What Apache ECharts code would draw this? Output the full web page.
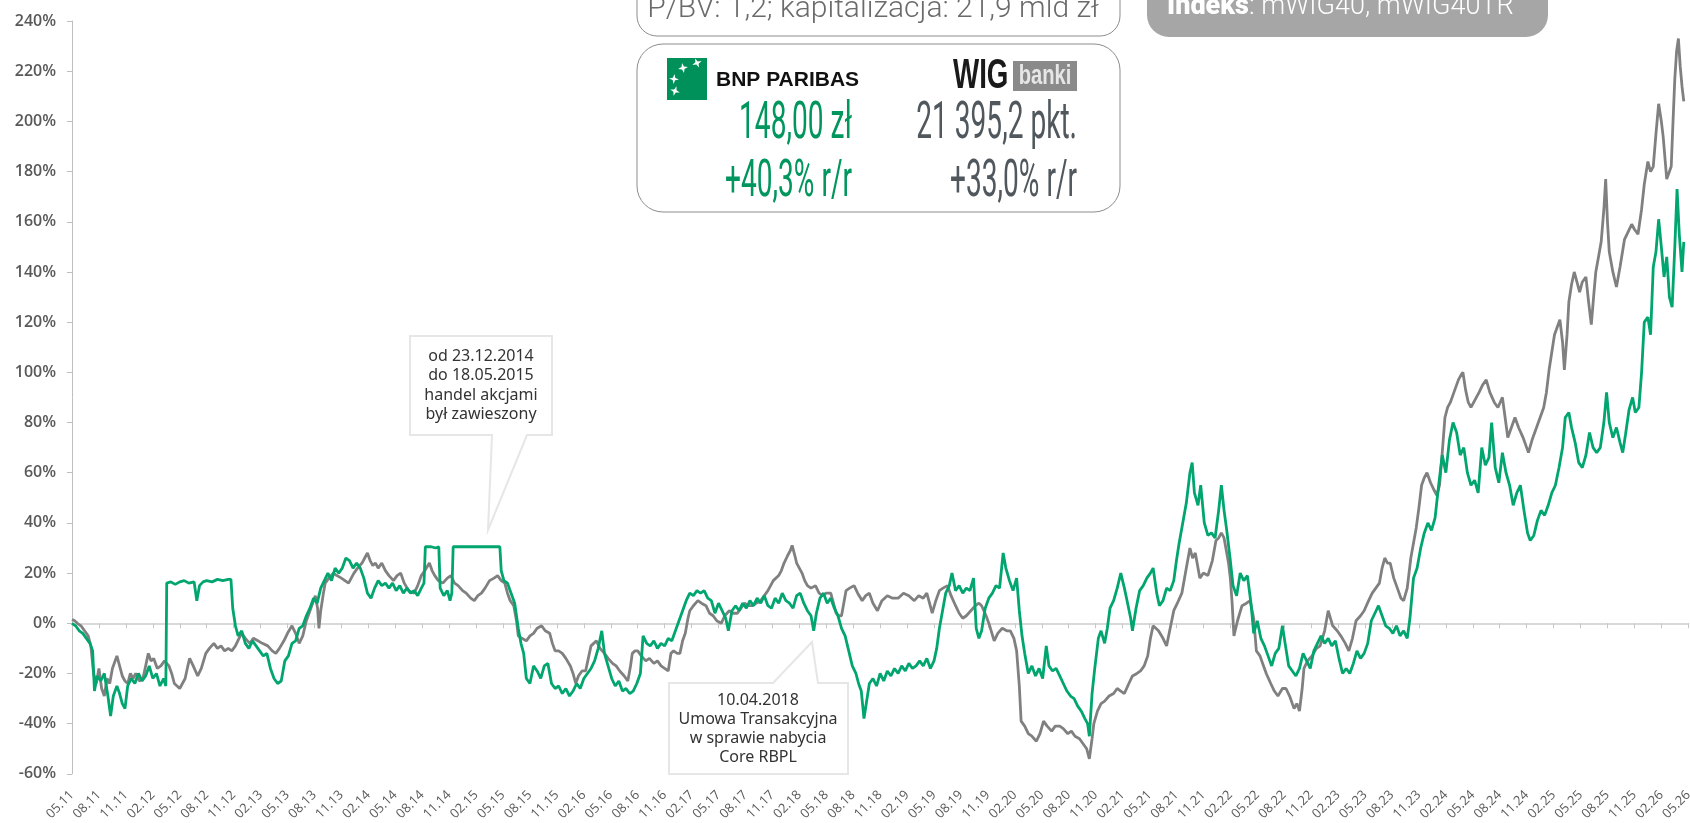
<!DOCTYPE html>
<html><head><meta charset="utf-8">
<script src="https://cdn.jsdelivr.net/npm/echarts@6/dist/echarts.min.js"></script>
<style>html,body{margin:0;padding:0;background:#fff;overflow:hidden;width:1690px;height:823px}#c{width:1695px;height:823px}</style>
</head><body><div id="c"></div>
<script>
// x = months since 05.2011, y = % change
const bnpData = [
[0,0],[0.4,-1],[0.8,-3],[1.2,-4],[1.6,-6],[2.0,-8],[2.3,-11],[2.5,-27],[2.8,-21],[3.2,-23],[3.6,-20],[4.0,-29],[4.3,-37],[4.6,-29],[5.0,-25],[5.3,-28],[5.6,-32],[5.9,-34],[6.2,-25],[6.6,-22],[7.0,-24],[7.4,-20],[7.8,-23],[8.2,-21],[8.6,-17],[9.0,-22],[9.4,-20],[9.8,-25],[10.2,-22],[10.45,-25],
[10.55,16],[11.0,16.5],[11.5,15.5],[12.0,16.5],[12.5,17],[13.0,16],[13.6,16.5],[13.9,9],[14.2,15],[14.6,16.5],[15.0,17],[15.6,16.5],[16.2,17.5],[16.8,17],[17.4,17.5],[17.7,17.5],
[17.9,6],[18.2,-1],[18.5,-5],[18.9,-3],[19.3,-8],[19.7,-10],[20.1,-7],[20.5,-9],[20.9,-11],[21.3,-13],[21.7,-12],[22.1,-18],[22.5,-22],[22.9,-24],[23.3,-23],[23.7,-15],[24.1,-13],[24.5,-8],[24.9,-7],[25.3,-2],[25.7,-1],[26.1,3],[26.5,6],[26.9,10],[27.3,8],[27.7,14],[28.1,17],[28.5,20],[28.9,17],[29.3,22],[29.7,20],[30.1,22],[30.5,26],[30.9,25],[31.3,22],[31.7,24],[32.1,22],[32.5,18],[32.9,12],[33.3,10],[33.7,14],[34.1,17],[34.5,15],[34.9,16],[35.3,14],[35.7,16],[36.1,13],[36.5,15],[36.9,12],[37.3,14],[37.7,12],[38.1,13],[38.5,11],[38.9,14],[39.2,16],
[39.35,30.5],[40.0,30.5],[40.5,30],[40.85,30.5],[41.0,14],[41.4,11],[41.8,13],[42.1,9],[42.3,12],[42.45,30.5],[45.0,30.5],[47.65,30.5],
[47.8,21],[48.1,17],[48.5,16],[48.9,12],[49.3,8],[49.7,-2],[50.0,-8],[50.3,-12],[50.6,-22],[51.0,-24],[51.4,-17],[51.8,-19],[52.2,-22],[52.6,-17],[53.0,-16],[53.4,-24],[53.8,-26],[54.2,-25],[54.6,-28],[55.0,-26],[55.4,-29],[55.8,-27],[56.2,-24],[56.6,-26],[57.0,-22],[57.4,-20],[57.8,-18],[58.2,-15],[58.6,-10],[59.0,-3],[59.3,-12],[59.7,-17],[60.1,-22],[60.5,-25],[60.9,-23],[61.3,-27],[61.7,-26],[62.1,-28],[62.5,-27],[62.9,-24],[63.3,-20],[63.6,-5],[64.0,-8],[64.4,-9],[64.8,-7],[65.2,-10],[65.6,-8],[66.0,-9],[66.4,-6],[66.8,-7],[67.2,-3],[67.6,1],[68.0,5],[68.4,9],[68.8,12],[69.2,11],[69.6,13],[70.0,12],[70.4,13],[70.8,10],[71.2,9],[71.6,4],[72.0,8],[72.4,5],[72.8,2],[73.1,-3],[73.5,5],[73.9,7],[74.3,5],[74.7,8],[75.1,6],[75.5,9],[75.9,7],[76.3,10],[76.7,8],[77.1,11],[77.5,7],[77.9,6],[78.3,10],[78.7,8],[79.1,12],[79.5,9],[79.9,8],[80.3,6],[80.7,11],[81.1,12],[81.5,8],[81.9,5],[82.3,3],[82.6,-3],[82.9,4],[83.3,10],[83.7,12],[84.1,8],[84.5,10],[84.9,6],[85.3,3],[85.7,-2],[86.1,-5],[86.5,-11],[86.9,-17],[87.3,-20],[87.6,-24],[87.9,-27],[88.2,-38],[88.5,-31],[88.8,-24],[89.2,-22],[89.6,-25],[90.0,-20],[90.4,-23],[90.8,-19],[91.2,-21],[91.6,-18],[92.0,-20],[92.4,-17],[92.8,-19],[93.2,-16],[93.6,-18],[94.0,-17],[94.4,-15],[94.8,-17],[95.2,-14],[95.6,-18],[96.0,-15],[96.3,-10],[96.6,-2],[97.0,6],[97.3,12],[97.7,15],[98.0,20],[98.4,13],[98.8,15],[99.2,12],[99.6,14],[100.0,13],[100.4,18],[100.7,-2],[101.0,-6],[101.3,-3],[101.7,6],[102.1,10],[102.5,12],[102.9,15],[103.3,14],[103.7,28],[104.0,22],[104.4,17],[104.8,13],[105.2,18],[105.5,5],[105.8,-5],[106.1,-12],[106.5,-20],[106.9,-17],[107.3,-21],[107.7,-18],[108.1,-22],[108.5,-9],[108.8,-17],[109.2,-19],[109.6,-18],[110.0,-21],[110.4,-24],[110.8,-27],[111.2,-29],[111.6,-30],[112.0,-33],[112.4,-35],[112.8,-38],[113.1,-40],[113.3,-45],[113.6,-28],[113.9,-18],[114.3,-6],[114.6,-3],[115.0,-8],[115.3,-2],[115.6,6],[116.0,9],[116.4,14],[116.8,20],[117.2,14],[117.5,9],[117.9,2],[118.1,-3],[118.5,6],[118.9,13],[119.3,15],[119.7,18],[120.1,20],[120.4,22],[120.8,12],[121.1,7],[121.5,9],[121.9,14],[122.3,13],[122.7,17],[123.0,25],[123.3,32],[123.7,40],[124.1,48],[124.5,60],[124.75,64],[125.0,52],[125.4,47],[125.7,55],[126.1,40],[126.5,35],[126.9,36],[127.3,34],[127.7,45],[128.0,55],[128.3,45],[128.6,37],[129.0,25],[129.3,15],[129.7,11],[130.1,20],[130.5,17],[130.9,19],[131.3,8],[131.6,-4],[132.0,1],[132.4,-6],[132.8,-9],[133.2,-13],[133.6,-17],[134.0,-12],[134.4,-10],[134.8,-1],[135.1,-8],[135.5,-17],[135.9,-19],[136.3,-21],[136.7,-18],[137.1,-12],[137.5,-15],[137.9,-18],[138.3,-11],[138.7,-8],[139.1,-5],[139.5,-8],[139.9,-6],[140.3,-9],[140.7,-7],[141.1,-14],[141.5,-20],[141.9,-18],[142.3,-20],[142.7,-16],[143.1,-11],[143.5,-14],[143.9,-12],[144.3,-8],[144.7,1],[145.1,4],[145.5,7],[145.9,3],[146.3,-1],[146.7,-2],[147.1,-4],[147.5,-1],[147.9,-5],[148.3,-3],[148.7,-6],[149.0,2],[149.4,18],[149.8,22],[150.2,30],[150.6,36],[151.0,40],[151.4,37],[151.8,42],[152.2,55],[152.6,67],[153.0,60],[153.4,73],[153.8,80],[154.2,76],[154.6,67],[155.0,70],[155.4,60],[155.8,55],[156.2,57],[156.6,52],[157.0,70],[157.4,63],[157.8,66],[158.1,80],[158.5,62],[158.9,56],[159.3,68],[159.7,60],[160.1,55],[160.5,47],[160.9,52],[161.3,55],[161.7,45],[162.1,36],[162.4,33],[162.8,35],[163.2,41],[163.6,45],[164.0,43],[164.4,47],[164.8,52],[165.2,55],[165.6,62],[166.0,70],[166.3,82],[166.7,84],[167.0,78],[167.4,72],[167.8,64],[168.2,62],[168.6,67],[169.0,76],[169.4,70],[169.8,68],[170.2,70],[170.6,80],[170.9,92],[171.2,80],[171.6,74],[172.0,78],[172.4,72],[172.7,68],[173.0,75],[173.4,85],[173.8,90],[174.1,84],[174.5,86],[174.8,100],[175.1,120],[175.5,122],[175.8,115],[176.1,142],[176.4,148],[176.7,161],[177.0,150],[177.3,138],[177.6,146],[177.9,130],[178.2,126],[178.5,150],[178.75,173],[179.0,155],[179.3,140],[179.5,152]
];
const wigData = [
[0,1.5],[0.3,1],[0.6,0],[1.0,-1],[1.4,-3],[1.8,-5],[2.1,-9],[2.4,-20],[2.7,-24],[3.0,-18],[3.3,-26],[3.6,-29],[3.9,-22],[4.2,-24],[4.5,-18],[4.8,-15],[5.0,-13],[5.3,-17],[5.6,-21],[5.9,-23],[6.2,-24],[6.5,-20],[6.8,-22],[7.1,-20],[7.5,-23],[7.9,-22],[8.2,-17],[8.5,-12],[8.8,-15],[9.1,-14],[9.5,-18],[9.9,-17],[10.3,-15],[10.8,-17],[11.1,-20],[11.4,-24],[11.7,-25],[12.0,-26],[12.3,-24],[12.6,-22],[12.9,-17],[13.1,-14],[13.5,-17],[14.0,-21],[14.4,-18],[14.9,-12],[15.3,-10],[15.8,-8],[16.2,-10],[16.6,-9],[17.0,-11],[17.4,-10],[17.8,-11],[18.2,-9],[18.6,-6],[18.9,-4],[19.3,-6],[19.8,-8],[20.2,-6],[20.7,-7],[21.2,-8],[21.8,-9],[22.3,-11],[22.7,-12],[23.1,-10],[23.6,-7],[24.0,-4],[24.5,-1],[24.9,-4],[25.3,-8],[25.7,-5],[26.1,1],[26.5,5],[26.8,8],[27.1,11],[27.35,6],[27.5,-2],[27.7,5],[28.0,12],[28.2,16],[28.6,18],[29.1,20],[29.5,19],[30.0,18],[30.4,17],[30.8,16],[31.1,18],[31.4,20],[31.8,22],[32.3,24],[32.6,26],[32.9,28],[33.2,25],[33.5,23],[33.8,24],[34.1,22],[34.5,24],[34.9,21],[35.3,19],[35.8,17],[36.2,19],[36.6,20],[37.0,16],[37.5,13],[38.1,12],[38.5,15],[38.9,19],[39.3,21],[39.8,24],[40.1,21],[40.4,19],[40.8,17],[41.3,16],[41.8,18],[42.2,19],[42.6,16],[43.0,15],[43.5,13],[43.9,12],[44.4,10],[44.8,9],[45.2,11],[45.6,12],[46.0,14],[46.5,17],[47.0,18],[47.4,19],[47.8,17],[48.2,16],[48.5,12],[48.8,9],[49.2,7],[49.5,1],[49.7,-5],[50.1,-6],[50.6,-7],[51.0,-5],[51.4,-4],[51.8,-2],[52.3,-1],[52.7,-3],[53.2,-4],[53.5,-8],[53.8,-11],[54.2,-11],[54.6,-12],[55.0,-14],[55.5,-17],[55.8,-20],[56.1,-24],[56.4,-21],[56.8,-19],[57.2,-19],[57.5,-14],[57.8,-9],[58.1,-8],[58.4,-7],[58.8,-10],[59.3,-12],[59.7,-14],[60.2,-16],[60.6,-17],[61.0,-19],[61.5,-21],[61.9,-23],[62.2,-17],[62.4,-12],[62.7,-11],[63.0,-11],[63.4,-13],[63.9,-15],[64.3,-14],[64.8,-16],[65.2,-15],[65.6,-17],[66.0,-18],[66.4,-19],[66.7,-12],[67.0,-11],[67.4,-12],[67.7,-12],[68.0,-7],[68.3,-4],[68.6,2],[68.8,5],[69.2,7],[69.7,9],[70.1,8],[70.6,7],[71.0,4],[71.4,3],[71.8,1],[72.3,0],[72.7,3],[73.2,5],[73.6,4],[74.1,4],[74.5,6],[74.9,8],[75.3,7],[75.8,7],[76.2,8],[76.7,9],[77.1,11],[77.5,13],[78.1,17],[78.7,19],[79.0,21],[79.3,24],[79.7,27],[80.0,29],[80.2,31],[80.5,27],[80.7,24],[81.0,22],[81.3,20],[81.6,17],[81.9,15],[82.3,14],[82.8,15],[83.2,12],[83.6,11],[84.0,12],[84.5,12],[84.8,8],[85.1,4],[85.4,3],[85.7,3],[86.0,9],[86.2,13],[86.6,14],[87.1,15],[87.5,12],[88.0,9],[88.4,11],[88.8,12],[89.2,8],[89.7,5],[90.2,9],[90.8,11],[91.4,10],[92.0,10],[92.6,12],[93.2,11],[93.8,9],[94.3,11],[94.8,10],[95.2,12],[95.5,8],[95.8,4],[96.2,9],[96.6,13],[97.0,14],[97.5,15],[97.9,11],[98.4,7],[98.8,4],[99.2,2],[99.6,3],[100.1,5],[100.6,7],[101.0,8],[101.3,7],[101.8,3],[102.2,-1],[102.7,-7],[103.1,-4],[103.6,-2],[104.1,-3],[104.5,-3],[104.9,-6],[105.2,-11],[105.5,-25],[105.7,-39],[106.1,-41],[106.5,-44],[106.9,-45],[107.4,-47],[107.8,-44],[108.2,-39],[108.6,-41],[109.1,-43],[109.5,-41],[110.0,-41],[110.4,-42],[110.9,-44],[111.3,-43],[111.7,-45],[112.2,-46],[112.6,-48],[113.0,-50],[113.3,-54],[113.6,-46],[113.8,-40],[114.2,-35],[114.6,-32],[115.0,-31],[115.5,-29],[116.0,-28],[116.4,-26],[116.8,-27],[117.2,-28],[117.7,-24],[118.1,-21],[118.6,-20],[119.0,-19],[119.4,-17],[119.8,-13],[120.1,-6],[120.4,-1],[120.7,-2],[121.0,-3],[121.5,-6],[121.9,-9],[122.3,-2],[122.7,5],[123.1,8],[123.6,12],[124.0,20],[124.5,30],[124.8,26],[125.1,28],[125.4,22],[125.6,18],[126.0,20],[126.5,19],[127.0,25],[127.4,33],[127.7,34],[128.0,36],[128.3,34],[128.5,30],[128.8,24],[129.0,18],[129.2,8],[129.4,-5],[129.8,1],[130.3,7],[130.8,8],[131.2,9],[131.6,2],[131.9,-11],[132.3,-13],[132.6,-16],[133.0,-20],[133.5,-24],[133.9,-27],[134.3,-29],[134.8,-26],[135.2,-26],[135.6,-29],[136.1,-34],[136.4,-32],[136.7,-35],[137.0,-26],[137.2,-18],[137.6,-15],[138.1,-13],[138.6,-10],[139.0,-9],[139.5,-3],[139.9,5],[140.4,-1],[140.9,-3],[141.3,-5],[141.8,-8],[142.2,-11],[142.6,-6],[143.0,1],[143.5,3],[143.9,5],[144.4,9],[144.8,12],[145.2,14],[145.6,16],[145.9,22],[146.2,26],[146.5,24],[146.8,24],[147.2,18],[147.7,13],[148.0,10],[148.3,9],[148.7,14],[149.1,26],[149.4,32],[149.7,38],[150.0,46],[150.3,55],[150.6,58],[150.9,60],[151.3,56],[151.7,53],[152.0,51],[152.3,55],[152.6,68],[152.9,82],[153.2,86],[153.5,88],[153.9,92],[154.2,95],[154.4,97],[154.7,99],[154.9,100],[155.2,93],[155.5,88],[155.8,86],[156.1,88],[156.4,90],[156.7,92],[157.1,95],[157.5,97],[157.9,92],[158.4,88],[158.8,86],[159.3,90],[159.6,82],[159.9,74],[160.3,78],[160.7,82],[161.1,78],[161.6,74],[162.0,70],[162.2,68],[162.6,73],[163.1,78],[163.5,82],[163.9,86],[164.2,92],[164.5,101],[164.8,108],[165.1,115],[165.4,118],[165.7,121],[166.0,112],[166.2,101],[166.5,115],[166.7,128],[167.0,135],[167.3,140],[167.6,136],[167.9,132],[168.2,136],[168.6,138],[168.9,128],[169.2,119],[169.5,132],[169.7,140],[170.0,146],[170.3,152],[170.6,165],[170.8,177],[171.0,160],[171.2,148],[171.6,140],[172.0,134],[172.4,142],[172.9,153],[173.3,156],[173.7,159],[174.0,157],[174.4,155],[174.8,165],[175.1,175],[175.5,184],[175.8,180],[176.1,182],[176.4,195],[176.7,207],[177.0,200],[177.2,194],[177.6,177],[177.9,180],[178.1,182],[178.3,200],[178.5,217],[178.7,228],[178.9,233],[179.1,222],[179.3,214],[179.5,208]
];
const yTicks = {min:-60, max:240, step:20};
const xTicks = {min:0, max:180, step:3};
const startMonth = 5, startYear = 11;
const infoTop = 'P/BV: 1,2; kapitalizacja: 21,9 mld zł';
const bnpPrice = '148,00 zł', bnpChange = '+40,3% r/r';
const wigPrice = '21 395,2 pkt.', wigChange = '+33,0% r/r';
const note1 = ['od 23.12.2014','do 18.05.2015','handel akcjami','był zawieszony'];
const note2 = ['10.04.2018','Umowa Transakcyjna','w sprawie nabycia','Core RBPL'];

function monthLabel(v){
  const idx = startMonth - 1 + Math.round(v);
  const mm = idx % 12 + 1, yy = startYear + Math.floor(idx / 12);
  return String(mm).padStart(2,'0') + '.' + String(yy).padStart(2,'0');
}
function star(cx, cy, r, rot){
  const pts = [];
  for (let i = 0; i < 8; i++){
    const a = rot + i * Math.PI / 4;
    const rr = i % 2 === 0 ? r : r * 0.35;
    pts.push([cx + rr * Math.cos(a), cy + rr * Math.sin(a)]);
  }
  return pts;
}
const GREEN = '#00a56f', GRAY = '#808080';
const chart = echarts.init(document.getElementById('c'), null, {renderer:'canvas'});
const graphic = [
  {type:'rect', shape:{x:637,y:-20,width:483,height:56,r:20}, style:{fill:'#fff',stroke:'#8c8c8c',lineWidth:1}},
  {type:'text', x:873, y:9, style:{text:infoTop, font:'300 30px Roboto', fill:'#6b6b6b', align:'center', verticalAlign:'middle'}},
  {type:'rect', shape:{x:637,y:44,width:483,height:168,r:26}, style:{fill:'#fff',stroke:'#8c8c8c',lineWidth:1}},
  {type:'rect', shape:{x:667,y:58,width:40,height:42}, style:{fill:'#00915a'}},
  {type:'polygon', shape:{points:star(675,91,5,0.3)}, style:{fill:'#fff'}},
  {type:'polygon', shape:{points:star(674,79,5,0.1)}, style:{fill:'#fff'}},
  {type:'polygon', shape:{points:star(683,68,5,-0.2)}, style:{fill:'#fff'}},
  {type:'polygon', shape:{points:star(697,63,5,-0.4)}, style:{fill:'#fff'}},
  {type:'text', x:716, y:80, style:{text:'BNP PARIBAS', font:'bold 21px "Liberation Sans"', fill:'#111', align:'left', verticalAlign:'middle'}},
  {type:'text', x:953, y:76, scaleX:0.66, style:{text:'WIG', font:'900 42px "Liberation Sans"', fill:'#1a1a1a', align:'left', verticalAlign:'middle'}},
  {type:'rect', shape:{x:1013,y:61,width:64,height:30}, style:{fill:'#8a8a8a'}},
  {type:'text', x:1045, y:76, scaleX:0.72, style:{text:'banki', font:'bold 28px "Liberation Sans"', fill:'#e6e6e6', align:'center', verticalAlign:'middle'}},
  {type:'text', x:852, y:125, scaleX:0.54, style:{text:bnpPrice, font:'52px Roboto', fill:'#00965e', align:'right', verticalAlign:'middle'}},
  {type:'text', x:1077, y:125, scaleX:0.54, style:{text:wigPrice, font:'52px Roboto', fill:'#50585e', align:'right', verticalAlign:'middle'}},
  {type:'text', x:852, y:183, scaleX:0.54, style:{text:bnpChange, font:'52px Roboto', fill:'#00965e', align:'right', verticalAlign:'middle'}},
  {type:'text', x:1077, y:183, scaleX:0.54, style:{text:wigChange, font:'52px Roboto', fill:'#50585e', align:'right', verticalAlign:'middle'}},
  {type:'rect', shape:{x:1147,y:-22,width:401,height:59,r:22}, style:{fill:'#a6a6a6'}},
  {type:'text', x:1167, y:7, style:{text:'{b|Indeks}: mWIG40, mWIG40TR', font:'300 27px Roboto', fill:'#fff', align:'left', verticalAlign:'middle', rich:{b:{font:'900 27px Roboto', fill:'#fff'}}}},
  {type:'polygon', shape:{points:[[410,336],[552,336],[552,435],[527,435],[488,530],[492,435],[410,435]]}, style:{fill:'#fff',stroke:'#e6e6e6',lineWidth:2}},
  {type:'polygon', shape:{points:[[669,683],[773,683],[812,642],[818,683],[848,683],[848,774],[669,774]]}, style:{fill:'#fff',stroke:'#e6e6e6',lineWidth:2}}
];
note1.forEach((t,i)=>graphic.push({type:'text', x:481, y:356+i*19.5, style:{text:t, font:'16px "Noto Sans"', fill:'#333', align:'center', verticalAlign:'middle'}}));
note2.forEach((t,i)=>graphic.push({type:'text', x:758, y:700+i*19, style:{text:t, font:'16px "Noto Sans"', fill:'#333', align:'center', verticalAlign:'middle'}}));

chart.setOption({
  animation:false,
  grid:{left:72, right:0, top:21, bottom:49, containLabel:false},
  xAxis:[
    {type:'value', min:xTicks.min, max:xTicks.max, interval:xTicks.step, position:'bottom',
     axisLine:{show:false, onZero:false}, axisTick:{show:false}, splitLine:{show:false},
     axisLabel:{rotate:45, margin:19, color:'#595959', fontSize:13, fontFamily:'"Open Sans"', formatter:monthLabel}},
    {type:'value', min:xTicks.min, max:xTicks.max, interval:xTicks.step, position:'bottom',
     axisLine:{show:true, onZero:true, lineStyle:{color:'#d9d9d9', width:2}},
     axisTick:{show:true, length:5, lineStyle:{color:'#c8c8c8', width:1}},
     axisLabel:{show:false}, splitLine:{show:false}}
  ],
  yAxis:{type:'value', min:yTicks.min, max:yTicks.max, interval:yTicks.step,
     axisLine:{show:true, onZero:false, lineStyle:{color:'#bfbfbf', width:1}},
     axisTick:{show:true, length:5, lineStyle:{color:'#bfbfbf'}},
     splitLine:{show:false},
     axisLabel:{margin:16, color:'#595959', fontSize:16, fontWeight:600, fontFamily:'"Open Sans"', formatter:'{value}%'}},
  series:[
    {type:'line', name:'mWIG40', data:wigData, xAxisIndex:0, showSymbol:false, symbol:'none', lineStyle:{color:GRAY, width:2.8}, itemStyle:{color:GRAY}, z:2},
    {type:'line', name:'BNP Paribas', data:bnpData, xAxisIndex:0, showSymbol:false, symbol:'none', lineStyle:{color:GREEN, width:2.8}, itemStyle:{color:GREEN}, z:3}
  ],
  graphic:{elements:graphic}
});
</script></body></html>
